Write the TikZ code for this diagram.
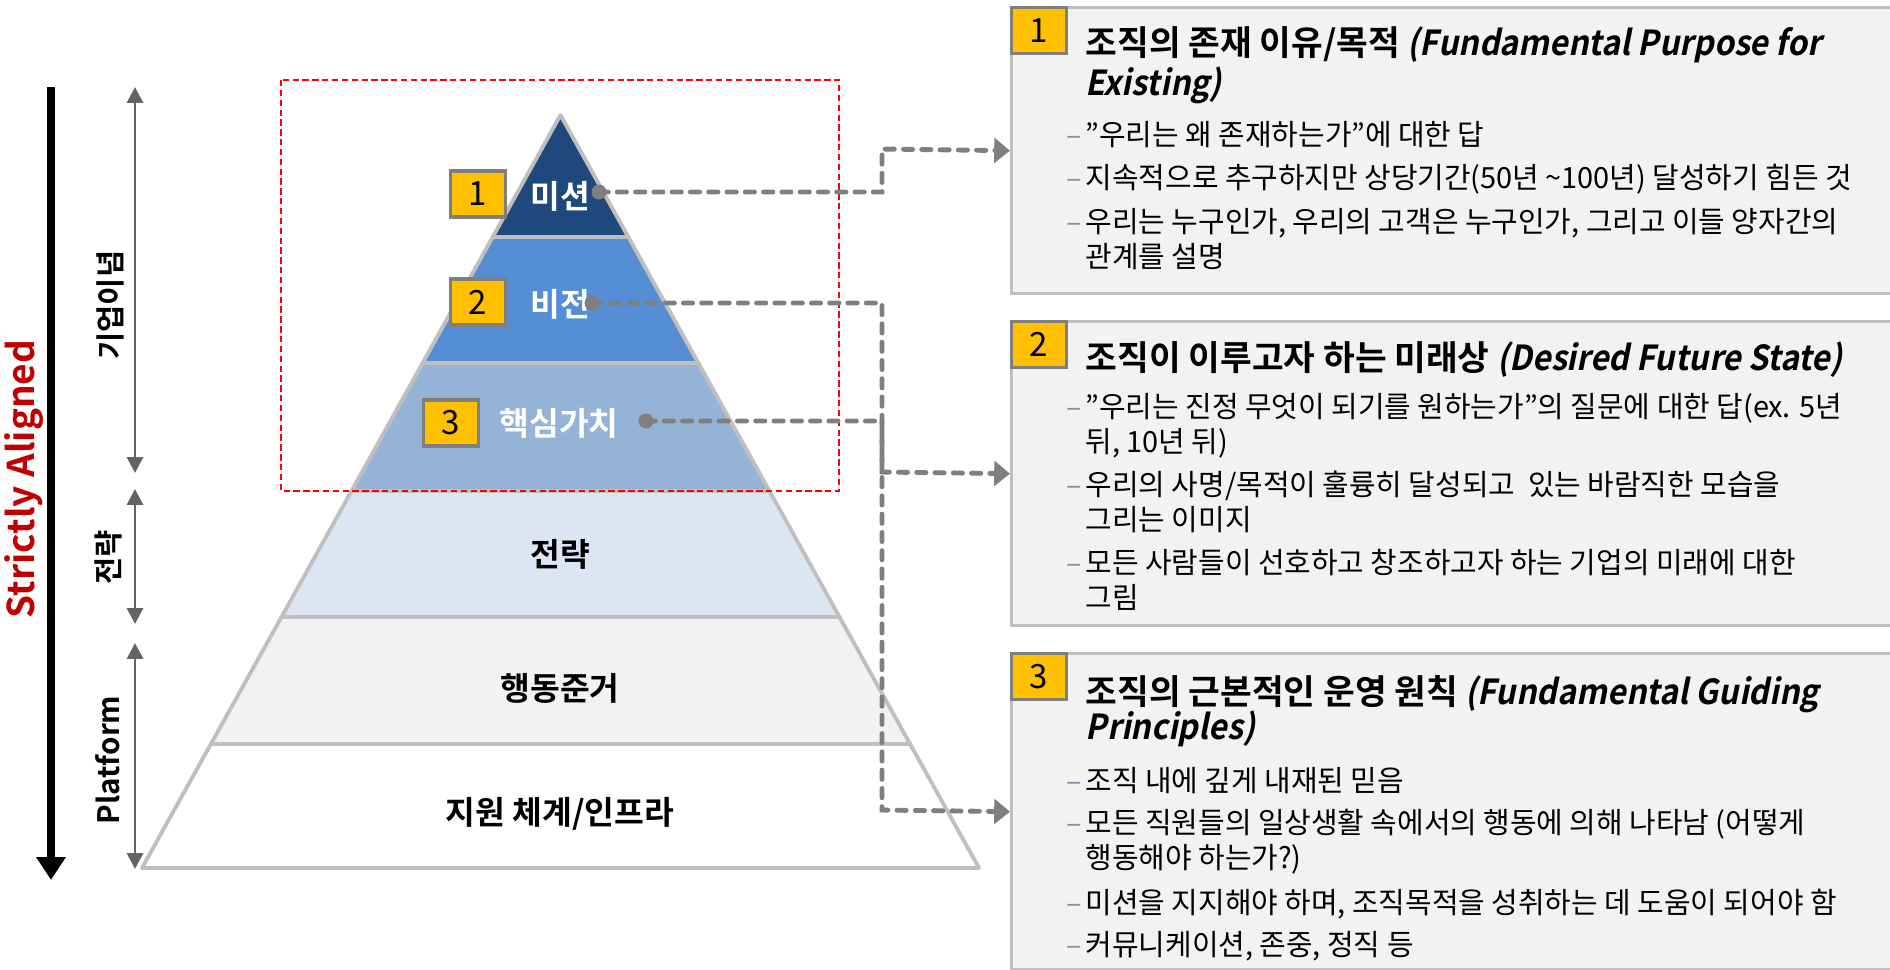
\documentclass[tikz,border=0pt]{standalone}
\usepackage{fontspec}
\setmainfont{Noto Sans CJK KR}
\newfontfamily\krfont{Noto Sans CJK KR}[FakeStretch=0.99]
\newfontfamily\krbold{Noto Sans CJK KR Bold}
\newfontfamily\krslant{Noto Sans CJK KR Bold}[FakeStretch=0.93,FakeSlant=0.2]
\usetikzlibrary{arrows.meta}

\definecolor{missionc}{HTML}{1F497D}
\definecolor{visionc}{HTML}{558ED5}
\definecolor{corec}{HTML}{95B3D7}
\definecolor{stratc}{HTML}{DCE6F2}
\definecolor{condc}{HTML}{F2F2F2}
\definecolor{edgegray}{HTML}{BFBFBF}
\definecolor{badgefill}{HTML}{FFC000}
\definecolor{badgeline}{HTML}{7F7F7F}
\definecolor{conngray}{HTML}{7F7F7F}
\definecolor{sidegray}{HTML}{646464}
\definecolor{boxfill}{HTML}{F2F2F2}
\definecolor{redtext}{HTML}{C00000}
\definecolor{dashblue}{HTML}{7F95AD}

\begin{document}
\begin{tikzpicture}[x=0.01cm, y=-0.01cm,
    layer/.style={draw=edgegray, line width=1.1pt, line join=round},
    lbl/.style={font=\krbold\fontsize{9.2}{11}\selectfont},
    badge/.style={draw=badgeline, fill=badgefill, line width=0.9pt, minimum width=0.55cm, minimum height=0.46cm, inner sep=0pt, font=\krfont\fontsize{9.5}{11}\selectfont},
    dot/.style={circle, fill=conngray, minimum size=0.15cm, inner sep=0pt},
    conn/.style={draw=conngray, line width=1.4pt, dash pattern=on 2.6pt off 2.6pt, line cap=round, -{Triangle[length=4.5pt,width=7pt]}},
    sidearr/.style={draw=sidegray, line width=0.85pt, {Triangle[length=4.5pt,width=4.5pt]}-{Triangle[length=4.5pt,width=4.5pt]}},
    sidelbl/.style={rotate=90, font=\krbold\fontsize{8.4}{10}\selectfont},
    infobox/.style={draw=edgegray, fill=boxfill, line width=0.9pt, minimum width=9cm, anchor=north west, inner sep=0pt},
    ttl/.style={anchor=base west, inner sep=0pt, font=\krbold\fontsize{9.8}{11}\selectfont},
    bul/.style={anchor=base west, inner sep=0pt, font=\krfont\fontsize{8.3}{10}\selectfont, execute at begin node={\llap{\textcolor{dashblue}{–}\hspace{1.2pt}}}},
    bulc/.style={anchor=base west, inner sep=0pt, font=\krfont\fontsize{8.3}{10}\selectfont}]

    \useasboundingbox (0,0) rectangle (1890,969);

    % left side
    \coordinate (btop) at (51,87);
    \coordinate (bbot) at (51,880);
    \draw[line width=2.3pt, -{Triangle[length=6.5pt,width=8pt]}] (btop) -- (bbot);
    \node[rotate=90, text=redtext, font=\krbold\fontsize{10.5}{12}\selectfont] (aligned) at (24,479) {Strictly Aligned};

    \coordinate (s1a) at (135,87);  \coordinate (s1b) at (135,473);
    \coordinate (s2a) at (135,489); \coordinate (s2b) at (135,624);
    \coordinate (s3a) at (135,643); \coordinate (s3b) at (135,869);
    \draw[sidearr] (s1a) -- (s1b);
    \draw[sidearr] (s2a) -- (s2b);
    \draw[sidearr] (s3a) -- (s3b);
    \node[sidelbl] (ideal) at (110,305) {기업이념};
    \node[sidelbl] (strat) at (108,557) {전략};
    \node[sidelbl] (platf) at (108,760) {Platform};

    % pyramid
    \foreach \ya/\yb/\col in {115/237/missionc, 237/363/visionc, 363/491/corec, 491/617/stratc, 617/744/condc, 744/868/white}{
        \filldraw[layer, fill=\col] ({560.5-0.5558*(\ya-115)},\ya) -- ({560.5+0.5558*(\ya-115)},\ya)
            -- ({560.5+0.5558*(\yb-115)},\yb) -- ({560.5-0.5558*(\yb-115)},\yb) -- cycle;
    }
    \node[lbl, text=white] (mission) at (560,196) {미션};
    \node[lbl, text=white] (vision) at (560,304) {비전};
    \node[lbl, text=white] (core) at (559,423) {핵심가치};
    \node[lbl] (strategy) at (560,554) {전략};
    \node[lbl] (conduct) at (560,688) {행동준거};
    \node[lbl] (infra) at (560,814) {지원 체계/인프라};

    \draw[draw=red, line width=0.6pt, dash pattern=on 1.8pt off 1pt] (281,80) rectangle (839,491);

    \node[badge] (b1) at (478,194) {1};
    \node[badge] (b2) at (478,302) {2};
    \node[badge] (b3) at (451,423) {3};

    % boxes
    \node[infobox, minimum height=2.86cm] (box1) at (1010,6) {};
    \node[infobox, minimum height=3.04cm] (box2) at (1010,320) {};
    \node[infobox, minimum height=3.16cm] (box3) at (1010,652) {};
    \node[badge, anchor=north west] (n1) at (1010,6) {1};
    \node[badge, anchor=north west] (n2) at (1010,320) {2};
    \node[badge, anchor=north west] (n3) at (1010,652) {3};

    \node[ttl] (t1) at (1085,55) {조직의 존재 이유/목적 {\krslant (Fundamental Purpose for}};
    \node[ttl] (t1b) at (1085,95) {\krslant Existing)};
    \node[bul] (p11) at (1085,145) {”우리는 왜 존재하는가”에 대한 답};
    \node[bul] (p12) at (1085,188) {지속적으로 추구하지만 상당기간(50년 \textasciitilde100년) 달성하기 힘든 것};
    \node[bul] (p13) at (1085,232) {우리는 누구인가, 우리의 고객은 누구인가, 그리고 이들 양자간의};
    \node[bulc] (p13b) at (1085,267) {관계를 설명};

    \node[ttl] (t2) at (1085,370) {조직이 이루고자 하는 미래상 {\krslant (Desired Future State)}};
    \node[bul] (p21) at (1085,417) {”우리는 진정 무엇이 되기를 원하는가”의 질문에 대한 답(ex. 5년};
    \node[bulc] (p21b) at (1085,452) {뒤, 10년 뒤)};
    \node[bul] (p22) at (1085,495) {우리의 사명/목적이 훌륭히 달성되고\ \ 있는 바람직한 모습을};
    \node[bulc] (p22b) at (1085,530) {그리는 이미지};
    \node[bul] (p23) at (1085,573) {모든 사람들이 선호하고 창조하고자 하는 기업의 미래에 대한};
    \node[bulc] (p23b) at (1085,608) {그림};

    \node[ttl] (t3) at (1085,704) {조직의 근본적인 운영 원칙 {\krslant (Fundamental Guiding}};
    \node[ttl] (t3b) at (1085,739) {\krslant Principles)};
    \node[bul] (p31) at (1085,791) {조직 내에 깊게 내재된 믿음};
    \node[bul] (p32) at (1085,833) {모든 직원들의 일상생활 속에서의 행동에 의해 나타남 (어떻게};
    \node[bulc] (p32b) at (1085,868) {행동해야 하는가?)};
    \node[bul] (p33) at (1085,913) {미션을 지지해야 하며, 조직목적을 성취하는 데 도움이 되어야 함};
    \node[bul] (p34) at (1085,955) {커뮤니케이션, 존중, 정직 등};

    % connectors
    \coordinate (k1) at (882,149);
    \coordinate (k2) at (882,472);
    \coordinate (k3) at (882,810);
    \draw[conn] (599,192) -| (k1) -- (box1.west);
    \draw[conn] (592,303) -| (k2) -- (box2.west);
    \draw[conn] (646,421) -| (k3) -- (box3.west);
    \node[dot] (d1) at (599,192) {};
    \node[dot] (d2) at (592,303) {};
    \node[dot] (d3) at (646,421) {};

\end{tikzpicture}
\end{document}
